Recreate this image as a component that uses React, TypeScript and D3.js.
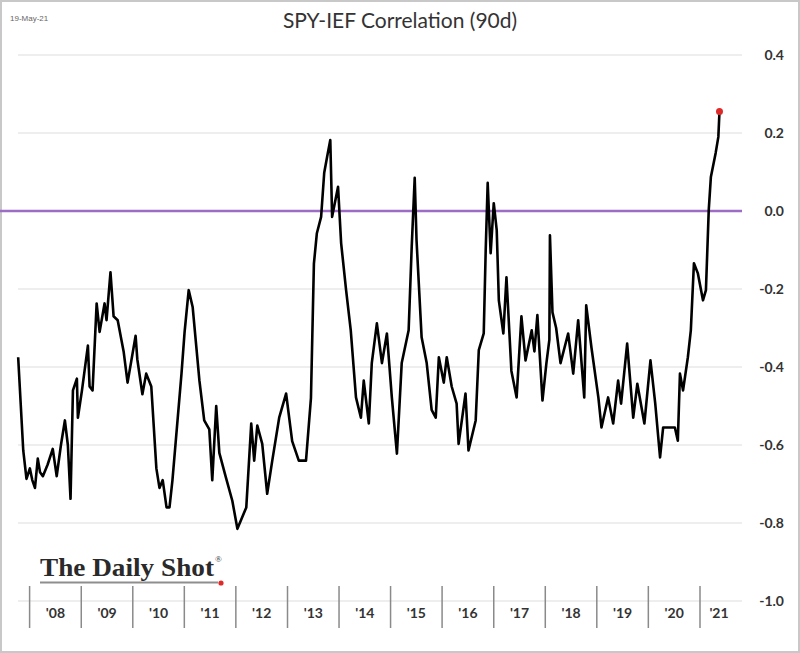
import React, { useEffect, useRef } from "react";
import * as d3 from "d3";

// 90-day rolling correlation
const dates: string[] = [
  "2007-10-12", "2007-11-17", "2007-12-10", "2008-01-03", "2008-01-20", "2008-02-08", "2008-02-28", "2008-03-15",
  "2008-04-04", "2008-05-08", "2008-06-13", "2008-07-11", "2008-08-10", "2008-09-07", "2008-09-28", "2008-10-17",
  "2008-11-03", "2008-12-01", "2008-12-08", "2009-01-06", "2009-02-17", "2009-03-01", "2009-03-22", "2009-04-20",
  "2009-05-11", "2009-06-15", "2009-06-29", "2009-07-27", "2009-08-18", "2009-09-16", "2009-10-28", "2009-11-25",
  "2010-01-21", "2010-02-02", "2010-03-10", "2010-04-06", "2010-05-12", "2010-06-17", "2010-07-09", "2010-08-01",
  "2010-08-28", "2010-09-18", "2010-10-09", "2010-12-12", "2011-01-03", "2011-02-01", "2011-03-01", "2011-04-18",
  "2011-05-22", "2011-06-27", "2011-07-18", "2011-08-15", "2011-09-06", "2011-10-20", "2011-12-07", "2012-01-12",
  "2012-03-15", "2012-04-19", "2012-05-10", "2012-06-01", "2012-07-06", "2012-08-10", "2012-09-15", "2012-11-03",
  "2012-12-22", "2013-02-03", "2013-03-22", "2013-05-12", "2013-06-16", "2013-07-07", "2013-07-28", "2013-08-27",
  "2013-09-18", "2013-10-09", "2013-10-31", "2013-11-13", "2013-12-25", "2014-01-16", "2014-02-20", "2014-03-25",
  "2014-05-01", "2014-06-05", "2014-06-25", "2014-07-31", "2014-08-21", "2014-09-26", "2014-11-01", "2014-12-06",
  "2015-01-10", "2015-02-15", "2015-03-21", "2015-05-09", "2015-05-31", "2015-06-21", "2015-07-04", "2015-08-09",
  "2015-09-14", "2015-10-19", "2015-11-17", "2015-12-09", "2016-01-13", "2016-02-03", "2016-03-09", "2016-04-13",
  "2016-04-27", "2016-06-15", "2016-07-06", "2016-08-26", "2016-09-17", "2016-10-22", "2016-11-05", "2016-11-19",
  "2016-12-10", "2017-01-01", "2017-01-22", "2017-02-06", "2017-03-10", "2017-04-01", "2017-05-06", "2017-06-12",
  "2017-07-16", "2017-08-14", "2017-09-27", "2017-10-16", "2017-11-06", "2017-12-12", "2018-01-09", "2018-01-30",
  "2018-02-03", "2018-02-21", "2018-03-19", "2018-04-19", "2018-06-12", "2018-07-18", "2018-08-22", "2018-10-04",
  "2018-10-18", "2018-11-24", "2019-01-12", "2019-02-03", "2019-03-22", "2019-04-27", "2019-06-01", "2019-06-22",
  "2019-08-04", "2019-09-16", "2019-10-15", "2019-12-04", "2020-01-16", "2020-02-19", "2020-03-24", "2020-04-15",
  "2020-07-07", "2020-07-28", "2020-08-12", "2020-09-03", "2020-10-07", "2020-10-28", "2020-11-19", "2020-12-17",
  "2021-01-22", "2021-02-12", "2021-03-04", "2021-03-19", "2021-04-22", "2021-05-11", "2021-05-19",
];

const values: number[] = [
  -0.375, -0.614, -0.687, -0.66, -0.69, -0.71, -0.635, -0.67,
  -0.68, -0.65, -0.61, -0.68, -0.6, -0.537, -0.6, -0.738,
  -0.46, -0.43, -0.53, -0.46, -0.345, -0.45, -0.46, -0.237,
  -0.31, -0.237, -0.28, -0.157, -0.27, -0.28, -0.36, -0.44,
  -0.32, -0.38, -0.47, -0.417, -0.45, -0.66, -0.71, -0.69,
  -0.76, -0.76, -0.69, -0.417, -0.31, -0.203, -0.246, -0.435,
  -0.537, -0.56, -0.69, -0.5, -0.62, -0.68, -0.743, -0.815,
  -0.76, -0.545, -0.64, -0.55, -0.597, -0.725, -0.64, -0.53,
  -0.468, -0.59, -0.64, -0.64, -0.48, -0.135, -0.057, -0.015,
  0.098, 0.14, 0.182, -0.015, 0.062, -0.083, -0.203, -0.306,
  -0.478, -0.53, -0.435, -0.545, -0.39, -0.288, -0.39, -0.314,
  -0.478, -0.622, -0.39, -0.306, -0.09, 0.085, -0.075, -0.324,
  -0.39, -0.51, -0.53, -0.375, -0.44, -0.375, -0.45, -0.494,
  -0.597, -0.468, -0.614, -0.537, -0.357, -0.314, -0.1, 0.072,
  -0.108, 0.02, -0.049, -0.229, -0.314, -0.17, -0.41, -0.478,
  -0.27, -0.383, -0.306, -0.36, -0.267, -0.486, -0.39, -0.33,
  -0.062, -0.26, -0.3, -0.39, -0.314, -0.417, -0.28, -0.478,
  -0.242, -0.35, -0.478, -0.555, -0.478, -0.545, -0.435, -0.494,
  -0.34, -0.53, -0.443, -0.545, -0.383, -0.494, -0.632, -0.555,
  -0.555, -0.589, -0.417, -0.46, -0.375, -0.306, -0.134, -0.16,
  -0.229, -0.203, 0.003, 0.087, 0.149, 0.19, 0.255,
];

const yTicks: number[] = [0.4, 0.2, 0.0, -0.2, -0.4, -0.6, -0.8, -1.0];
const years: number[] = [2008, 2009, 2010, 2011, 2012, 2013, 2014, 2015, 2016, 2017, 2018, 2019, 2020, 2021];
const yearLabels: string[] = ["'08", "'09", "'10", "'11", "'12", "'13", "'14", "'15", "'16", "'17", "'18", "'19", "'20", "'21"];

const App: React.FC = () => {
  const svgRef = useRef<SVGSVGElement | null>(null);

  useEffect(() => {
    if (!svgRef.current) return;
    const svg = d3.select(svgRef.current);
    svg.selectAll("*").remove();

    const width = 800;
    const height = 653;
    const plotRight = 742;

    const parse = d3.timeParse("%Y-%m-%d");
    const data: [Date, number][] = dates.map((d, i) => [parse(d) as Date, values[i]]);

    const x = d3
      .scaleTime()
      .domain([new Date(2008, 0, 1), new Date(2021, 0, 1)])
      .range([29.6, 700]);

    const y = d3.scaleLinear().domain([-1, 0.4]).range([601, 55]);

    svg.append("rect")
      .attr("width", width)
      .attr("height", height)
      .attr("fill", "#fff");

    svg.append("rect")
      .attr("x", 1)
      .attr("y", 1)
      .attr("width", width - 2)
      .attr("height", height - 2)
      .attr("fill", "none")
      .attr("stroke", "#c8c8c8")
      .attr("stroke-width", 2);

    // gridlines
    svg.append("g")
      .selectAll("line")
      .data(yTicks)
      .join("line")
      .attr("x1", 18)
      .attr("x2", plotRight)
      .attr("y1", d => y(d))
      .attr("y2", d => y(d))
      .attr("stroke", "#e8e8e8")
      .attr("stroke-width", 1.5);

    // zero line
    svg.append("line")
      .attr("x1", 0)
      .attr("x2", plotRight)
      .attr("y1", y(0))
      .attr("y2", y(0))
      .attr("stroke", "#9d6cc4")
      .attr("stroke-width", 2.5);

    // y labels
    svg.append("g")
      .selectAll("text")
      .data(yTicks)
      .join("text")
      .attr("x", 784)
      .attr("y", d => y(d) + 5)
      .attr("text-anchor", "end")
      .style("font-family", "Lato, 'Liberation Sans', sans-serif")
      .style("font-size", "14px")
      .style("font-weight", "700")
      .style("fill", "#333")
      .text(d => d.toFixed(1));

    // x separators
    svg.append("g")
      .selectAll("line")
      .data(years)
      .join("line")
      .attr("x1", d => x(new Date(d, 0, 1)))
      .attr("x2", d => x(new Date(d, 0, 1)))
      .attr("y1", 586)
      .attr("y2", 628)
      .attr("stroke", "#8a8a8a")
      .attr("stroke-width", 1.5);

    svg.append("g")
      .selectAll("text")
      .data(years)
      .join("text")
      .attr("x", (d, i) => {
        const a = x(new Date(d, 0, 1));
        const b = i < years.length - 1 ? x(new Date(d + 1, 0, 1)) : 738;
        return (a + b) / 2;
      })
      .attr("y", 618)
      .attr("text-anchor", "middle")
      .style("font-family", "Lato, 'Liberation Sans', sans-serif")
      .style("font-size", "14px")
      .style("font-weight", "700")
      .style("fill", "#333")
      .text((d, i) => yearLabels[i]);

    // series
    const line = d3
      .line<[Date, number]>()
      .x(d => x(d[0]))
      .y(d => y(d[1]));

    svg.append("path")
      .datum(data)
      .attr("d", line)
      .attr("fill", "none")
      .attr("stroke", "#000")
      .attr("stroke-width", 2.6)
      .attr("stroke-linejoin", "round");

    const last = data[data.length - 1];
    svg.append("circle")
      .attr("cx", x(last[0]))
      .attr("cy", y(last[1]))
      .attr("r", 3.5)
      .attr("fill", "#e02a2a");

    // header
    svg.append("text")
      .attr("x", 10)
      .attr("y", 21)
      .style("font-family", "'Liberation Sans', sans-serif")
      .style("font-size", "8px")
      .style("fill", "#666")
      .text("19-May-21");

    svg.append("text")
      .attr("x", 400)
      .attr("y", 28)
      .attr("text-anchor", "middle")
      .style("font-family", "Lato, 'Open Sans', sans-serif")
      .style("font-size", "21px")
      .style("fill", "#333")
      .text("SPY-IEF Correlation (90d)");

    // logo
    svg.append("text")
      .attr("x", 40)
      .attr("y", 576)
      .attr("textLength", 174)
      .attr("lengthAdjust", "spacingAndGlyphs")
      .style("font-family", "'Liberation Serif', 'DejaVu Serif', serif")
      .style("font-size", "25px")
      .style("font-weight", "700")
      .style("fill", "#2a2a2a")
      .text("The Daily Shot");

    svg.append("text")
      .attr("x", 215)
      .attr("y", 562)
      .style("font-family", "'Liberation Serif', serif")
      .style("font-size", "9px")
      .style("fill", "#333")
      .text("®");

    svg.append("line")
      .attr("x1", 40)
      .attr("x2", 218)
      .attr("y1", 582.5)
      .attr("y2", 582.5)
      .attr("stroke", "#8e8e8e")
      .attr("stroke-width", 2.2);

    svg.append("circle")
      .attr("cx", 221)
      .attr("cy", 583)
      .attr("r", 2.6)
      .attr("fill", "#e02a2a");
  }, []);

  return (
    <svg
      ref={svgRef}
      width={800}
      height={653}
      style={{ position: "absolute", left: 0, top: 0, display: "block" }}
    />
  );
};

export default App;
